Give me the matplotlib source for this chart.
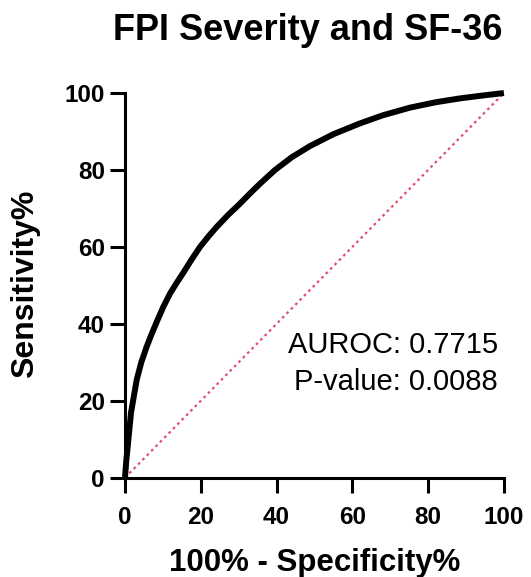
import matplotlib.pyplot as plt

# ROC curve
fpr = [0, 0.3, 0.7, 1.6, 3.1, 4.3, 5.7, 7.0, 8.5, 10.1, 11.9, 13.6, 15.4, 17.5,
       19.8, 22.0, 24.2, 27.2, 30.3, 33.0, 35.6, 39.6, 44.0, 48.8, 55, 62, 68,
       75.2, 82, 88.4, 94, 100]
tpr = [0, 4, 8, 17, 25.5, 30, 34, 37.3, 40.8, 44.4, 47.9, 50.6, 53.3, 56.6,
       60, 62.7, 65.2, 68.3, 71.2, 73.9, 76.4, 80, 83.3, 86.2, 89.3, 92.1, 94.2,
       96.2, 97.6, 98.6, 99.3, 100]
ref_line = [0, 100]
ticks = [0, 20, 40, 60, 80, 100]
auroc = 0.7715
p_value = 0.0088

plt.rcParams['font.family'] = ['Liberation Sans', 'DejaVu Sans']

fig = plt.figure(figsize=(5.31, 5.77), dpi=100)
ax = fig.add_axes([0.2354, 0.172, 0.7136, 0.6668])

ax.plot(ref_line, ref_line, color='#e0506a', linestyle=(0, (1.2, 1.6)), linewidth=1.6, zorder=2)
ax.plot(fpr, tpr, color='black', linewidth=4.3, solid_joinstyle='round',
        solid_capstyle='butt', clip_on=False, zorder=3)

ax.set_xlim(0, 100)
ax.set_ylim(0, 100)
ax.set_xticks(ticks)
ax.set_yticks(ticks)
for s in ['top', 'right']:
    ax.spines[s].set_visible(False)
for s in ['left', 'bottom']:
    ax.spines[s].set_linewidth(2.2)
ax.tick_params(width=2.2, length=11, labelsize=17.5)
ax.tick_params(axis='x', pad=9)
ax.tick_params(axis='y', pad=3.5)
for lab in ax.get_xticklabels() + ax.get_yticklabels():
    lab.set_fontweight('bold')

fig.text(0.592, 0.0104, '100% - Specificity%', fontsize=22.5, fontweight='bold',
         ha='center', va='baseline')
fig.text(0.047, 0.5087, 'Sensitivity%', fontsize=23, fontweight='bold',
         rotation=90, ha='center', va='center')
fig.text(0.579, 0.9307, 'FPI Severity and SF-36', fontsize=26, fontweight='bold',
         ha='center', va='baseline')

ax.text(98.4, 32.4, f'AUROC: {auroc}', fontsize=21, ha='right', va='baseline')
ax.text(98.4, 22.8, f'P-value: {p_value}', fontsize=21, ha='right', va='baseline')

fig.savefig('out.png', dpi=100)
